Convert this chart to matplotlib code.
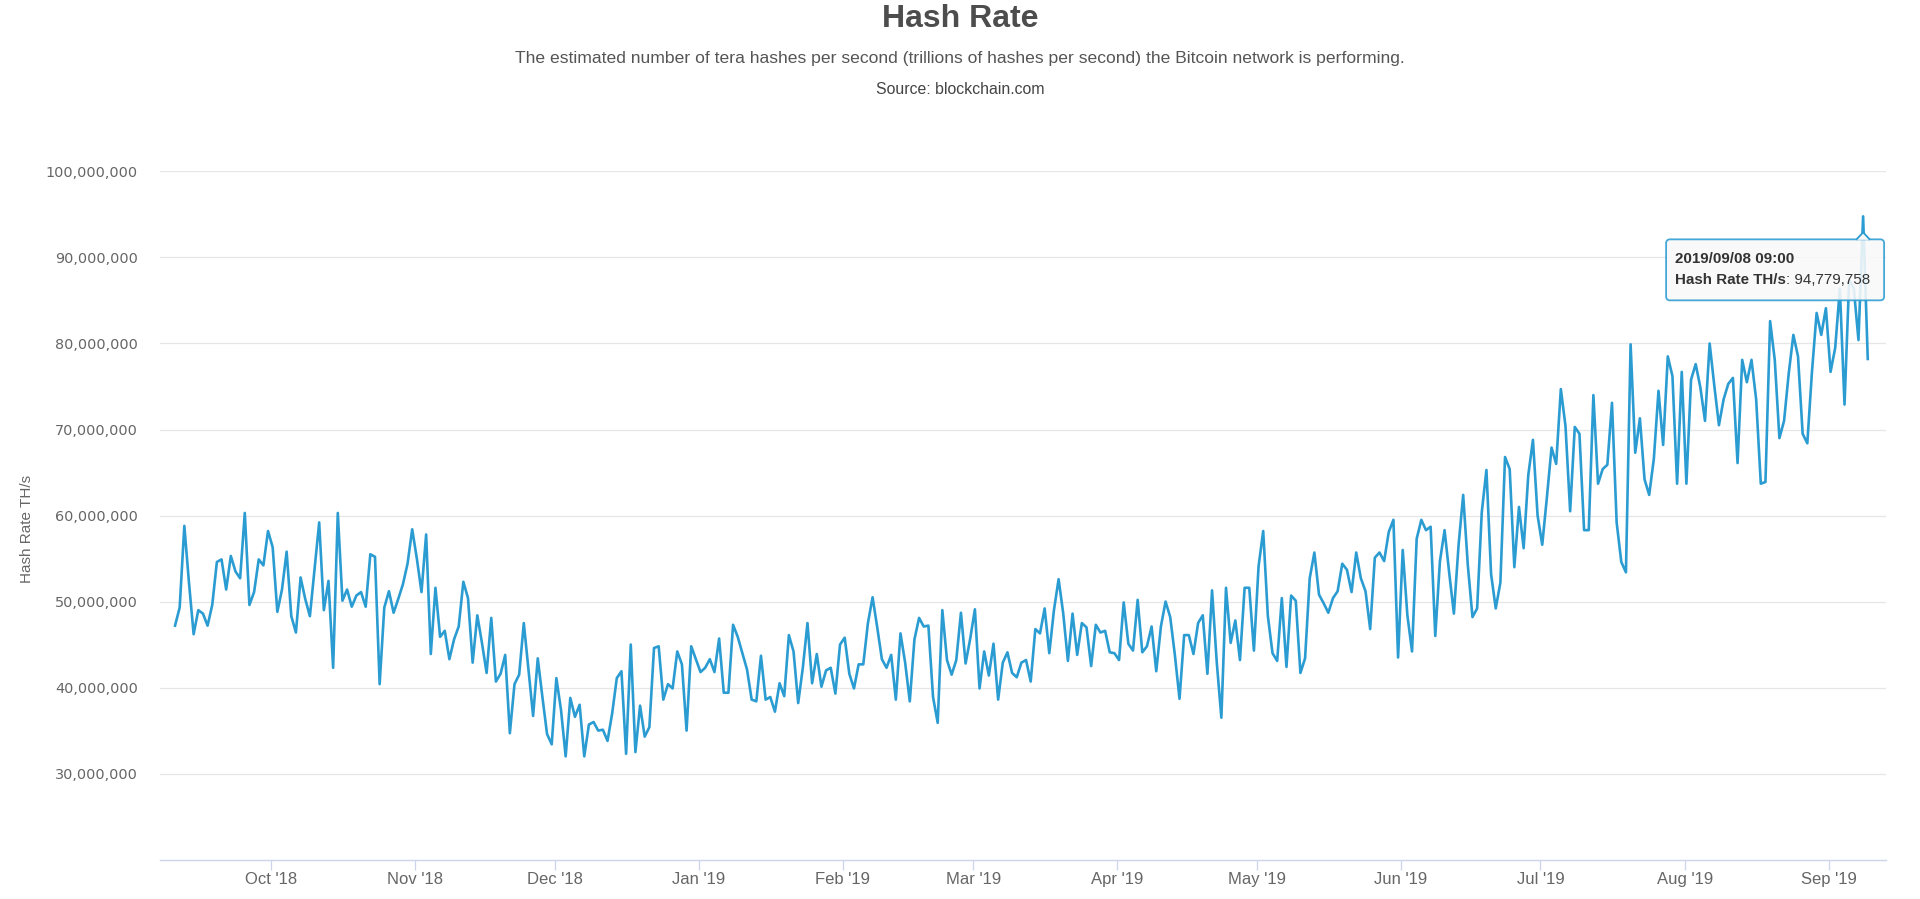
import numpy as np
import pandas as pd
import matplotlib
matplotlib.use('Agg')
import matplotlib.pyplot as plt
import matplotlib.dates as mdates
from matplotlib.patches import FancyBboxPatch, Polygon
from matplotlib.transforms import IdentityTransform
from matplotlib.ticker import FuncFormatter

# daily samples (millions of TH/s)
dates = pd.date_range('2018-09-10 09:00', periods=365, freq='D')
hash_rate_m = [
    47.2, 49.3, 58.8, 52.2, 46.2, 49.0, 48.6, 47.2, 49.6, 54.6,
    54.9, 51.4, 55.3, 53.5, 52.7, 60.3, 49.6, 51.1, 54.9, 54.2,
    58.2, 56.3, 48.8, 51.4, 55.8, 48.3, 46.4, 52.8, 50.3, 48.3,
    53.8, 59.2, 49.0, 52.4, 42.3, 60.3, 50.1, 51.4, 49.4, 50.7,
    51.1, 49.4, 55.5, 55.2, 40.4, 49.3,
    51.2, 48.7, 50.3, 52.0, 54.4, 58.4, 55.0, 51.1, 57.8, 43.9,
    51.6, 45.9, 46.6, 43.3, 45.6, 47.1, 52.3, 50.4, 42.9, 48.4,
    45.2, 41.7, 48.1, 40.7, 41.6, 43.8, 34.7, 40.4, 41.5, 47.5,
    42.1, 36.7, 43.4, 38.9, 34.6, 33.4, 41.1, 37.4, 32.0, 38.8,
    36.6, 38.0, 32.0, 35.7, 36.0, 35.0,
    35.1, 33.8, 37.0, 41.1, 41.9, 32.3, 45.0, 32.5, 37.9, 34.3,
    35.4, 44.6, 44.8, 38.6, 40.4, 39.9, 44.2, 42.7, 35.0, 44.8,
    43.3, 41.8, 42.3, 43.3, 41.8, 45.7, 39.4, 39.4, 47.3, 45.9,
    44.0, 42.1, 38.6, 38.4, 43.7, 38.6, 38.9, 37.2, 40.5, 39.0,
    46.1, 44.2, 38.2, 42.3, 47.5, 40.5,
    43.9, 40.1, 42.0, 42.3, 39.3, 45.0, 45.8, 41.6, 39.9, 42.7,
    42.7, 47.5, 50.5, 47.0, 43.3, 42.3, 43.8, 38.6, 46.3, 42.9,
    38.4, 45.6, 48.1, 47.1, 47.2, 38.9, 35.9, 49.0, 43.2, 41.5,
    43.2, 48.7, 42.8, 45.7, 49.1, 39.9, 44.2, 41.4, 45.1, 38.6,
    42.9, 44.1, 41.7, 41.2, 42.9, 43.2,
    40.7, 46.8, 46.3, 49.2, 44.0, 49.0, 52.6, 48.6, 43.1, 48.6,
    43.8, 47.5, 47.0, 42.5, 47.3, 46.4, 46.6, 44.1, 44.0, 43.2,
    49.9, 45.1, 44.3, 50.2, 44.1, 44.8, 47.1, 41.9, 47.1, 50.0,
    48.2, 43.8, 38.7, 46.1, 46.1, 43.9, 47.5, 48.4, 41.6, 51.3,
    43.0, 36.5, 51.6, 45.2, 47.8, 43.2,
    51.6, 51.6, 44.3, 54.1, 58.2, 48.3, 44.0, 43.1, 50.4, 42.4,
    50.7, 50.1, 41.7, 43.4, 52.7, 55.7, 50.8, 49.8, 48.7, 50.4,
    51.2, 54.4, 53.7, 51.1, 55.7, 52.7, 51.2, 46.8, 55.1, 55.7,
    54.7, 58.1, 59.5, 43.5, 56.0, 48.4, 44.2, 57.3, 59.5, 58.3,
    58.7, 46.0, 54.7, 58.3, 53.3, 48.6,
    56.5, 62.4, 54.2, 48.2, 49.2, 60.4, 65.3, 53.2, 49.2, 52.2,
    66.8, 65.4, 54.0, 61.0, 56.2, 64.7, 68.8, 60.0, 56.6, 62.1,
    67.9, 66.0, 74.7, 70.4, 60.5, 70.3, 69.5, 58.3, 58.3, 74.0,
    63.7, 65.4, 65.9, 73.1, 59.2, 54.6, 53.4, 79.9, 67.3, 71.3,
    64.2, 62.4, 66.6, 74.5, 68.2, 78.5,
    76.2, 63.7, 76.7, 63.7, 75.8, 77.6, 74.9, 71.0, 80.0, 75.1,
    70.5, 73.5, 75.3, 76.0, 66.1, 78.1, 75.5, 78.1, 73.5, 63.7,
    63.9, 82.6, 78.1, 69.0, 71.0, 76.5, 81.0, 78.5, 69.5, 68.4,
    76.7, 83.55, 81.0, 84.1, 76.7, 79.5, 86.4, 72.9, 87.4, 86.4,
    80.4, 94.779758, 78.2,
]
hash_rate = np.array(hash_rate_m) * 1e6

title = 'Hash Rate'
subtitle = ('The estimated number of tera hashes per second (trillions of hashes per second) '
            'the Bitcoin network is performing.')
source = 'Source: blockchain.com'
y_title = 'Hash Rate TH/s'
y_ticks = np.arange(30e6, 100e6 + 1, 10e6)

blue = '#2b9cd2'
grid_c = '#e6e6e6'
axis_c = '#ccd6eb'

fig = plt.figure(figsize=(19.2, 8.99), dpi=100)
ax = fig.add_axes([0.0833, 0.0438, 0.899, 0.7655])

ax.plot(dates, hash_rate, color=blue, lw=1.9, solid_joinstyle='round', zorder=3)

ax.set_ylim(20e6, 100e6)
ax.set_yticks(y_ticks)
ax.yaxis.set_major_formatter(FuncFormatter(lambda v, p: f'{v:,.0f}'))
x0 = pd.Timestamp('2018-10-01')
ax.set_xlim(x0 - pd.Timedelta(days=23.87), x0 + pd.Timedelta(days=347.3))
ax.xaxis.set_major_locator(mdates.MonthLocator())
ax.xaxis.set_major_formatter(mdates.DateFormatter("%b '%y"))

ax.grid(axis='y', color=grid_c, lw=0.9)
ax.set_axisbelow(True)
for s in ['top', 'right', 'left']:
    ax.spines[s].set_visible(False)
ax.spines['bottom'].set_color(axis_c)
ax.spines['bottom'].set_linewidth(1.0)
ax.tick_params(axis='y', length=0, pad=16, labelsize=10.4, labelcolor='#666666')
ax.tick_params(axis='x', direction='out', length=7, width=0.9, color=axis_c,
               pad=2, labelsize=12, labelcolor='#666666')
for lab in ax.get_xticklabels():
    lab.set_family(['Liberation Sans', 'DejaVu Sans'])

fig.text(0.5, 1 - 19 / 899, title, ha='center', va='center', fontsize=23,
         fontweight='bold', color='#4d4d4d', family='Liberation Sans')
fig.text(0.5, 1 - 59 / 899, subtitle, ha='center', va='center', fontsize=12.6,
         color='#555555', family='Liberation Sans')
fig.text(0.5, 1 - 89.5 / 899, source, ha='center', va='center', fontsize=11.4,
         color='#444444', family='Liberation Sans')
fig.text(27 / 1920, 1 - 529 / 899, y_title, ha='center', va='center', rotation=90,
         fontsize=11, color='#666666', family='Liberation Sans')

# tooltip on the peak point
peak = int(np.argmax(hash_rate))
px, py = ax.transData.transform((mdates.date2num(dates[peak]), hash_rate[peak]))
box_w, box_h = 218, 61
left = px - 197
top = py - 23
box = FancyBboxPatch((left, top - box_h), box_w, box_h,
                     boxstyle='round,pad=0,rounding_size=4',
                     facecolor='#f9f9f9', alpha=0.88, edgecolor=blue, lw=1.3,
                     transform=IdentityTransform(), zorder=5)
fig.add_artist(box)
notch = Polygon([(px - 7, top - 0.5), (px, top + 7), (px + 7, top - 0.5)], closed=False,
                facecolor='#f9f9f9', edgecolor=blue, lw=1.3,
                transform=IdentityTransform(), zorder=6)
fig.add_artist(notch)

tip_font = 'Liberation Sans'
tip_size = 10.9
r = fig.canvas.get_renderer()
fig.text(left + 9, top - 20, dates[peak].strftime('%Y/%m/%d %H:%M'),
         transform=IdentityTransform(), ha='left', va='center', family=tip_font,
         fontsize=tip_size, fontweight='bold', color='#333333', zorder=7)
t2 = fig.text(left + 9, top - 41, y_title, transform=IdentityTransform(),
              ha='left', va='center', family=tip_font, fontsize=tip_size,
              fontweight='bold', color='#333333', zorder=7)
bb = t2.get_window_extent(renderer=r)
fig.text(bb.x1, top - 41, f': {hash_rate[peak]:,.0f}', transform=IdentityTransform(),
         ha='left', va='center', family=tip_font, fontsize=tip_size,
         color='#333333', zorder=7)

fig.savefig('out.png', dpi=100, facecolor='white')
